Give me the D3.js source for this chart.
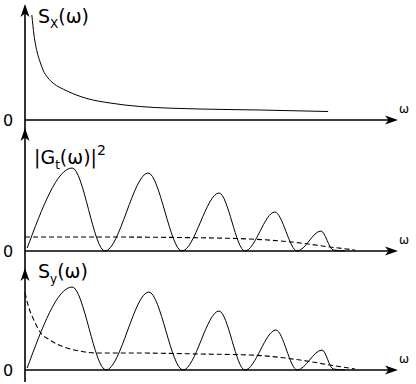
<!DOCTYPE html>
<html>
<head>
<meta charset="utf-8">
<script src="https://cdn.jsdelivr.net/npm/d3@7"></script>
<style>
  body { margin: 0; background: #fff; }
  text { font-family: "DejaVu Sans", sans-serif; fill: #000; }
</style>
</head>
<body>
<script>
// S_x(w) : decaying input spectrum
var sxOmega = [0.19, 0.25, 0.33, 0.42, 0.5, 0.64, 0.78, 1.17, 1.72, 2.36, 3.19, 4.86, 6.53, 8.42];
var sxVals  = [1.05, 0.85, 0.69, 0.58, 0.50, 0.42, 0.37, 0.29, 0.215, 0.17, 0.135, 0.11, 0.10, 0.085];

// |G_t(w)|^2 : humps (peaks and zeros)
var gOmega = [0.06, 1.31, 2.22, 3.42, 4.36, 5.39, 6.11, 6.94, 7.56, 8.22, 8.56, 8.89];
var gVals  = [0.03, 0.83, 0, 0.78, 0, 0.58, 0, 0.39, 0, 0.20, 0.01, 0];

// dashed curve in the middle panel
var gDashOmega = [0, 2.08, 4.31, 6.25, 7.64, 8.47, 9.17];
var gDashVals  = [0.14, 0.14, 0.135, 0.12, 0.08, 0.04, 0.01];

// S_y(w) : humps, same shape as |G_t|^2
var syOmega = [0.06, 1.31, 2.25, 3.44, 4.39, 5.39, 6.11, 6.97, 7.56, 8.25, 8.56, 8.89];
var syVals  = [0.02, 0.83, 0, 0.78, 0, 0.59, 0, 0.40, 0, 0.20, 0.01, 0];

// dashed curve in the bottom panel
var syDashOmega = [0, 0.11, 0.22, 0.42, 0.69, 1.17, 2.08, 2.92, 4.86, 6.25, 7.64, 8.47, 9.17];
var syDashVals  = [0.77, 0.62, 0.52, 0.38, 0.30, 0.22, 0.17, 0.17, 0.16, 0.15, 0.10, 0.05, 0.01];

var width = 416, height = 384;
var left = 25, axisEnd = 398;

var svg = d3.select("body").append("svg")
    .attr("width", width)
    .attr("height", height);

var x = d3.scaleLinear().domain([0, 10]).range([left, 385]);

// baselines of the three panels
var panels = [
  {base: 120, top: 4},
  {base: 251, top: 128},
  {base: 370, top: 268}
];
panels.forEach(function(p) {
  p.y = d3.scaleLinear().domain([0, 1]).range([p.base, p.base - 100]);
});

function zip(a, b) {
  return a.map(function(d, i) { return [d, b[i]]; });
}

function drawCurve(p, xs, ys, dashed) {
  var line = d3.line()
      .x(function(d) { return x(d[0]); })
      .y(function(d) { return p.y(d[1]); })
      .curve(d3.curveMonotoneX);
  svg.append("path")
     .datum(zip(xs, ys))
     .attr("d", line)
     .attr("fill", "none")
     .attr("stroke", "#000")
     .attr("stroke-width", dashed ? 1.1 : 1)
     .attr("stroke-dasharray", dashed ? "5,3" : null);
}

// arrowhead pointing right, tip at 0,0
var arrow = "M0,0 L-13,-4.5 L-9.5,0 L-13,4.5 Z";

// vertical axis line
svg.append("line")
   .attr("x1", left).attr("x2", left)
   .attr("y1", 6).attr("y2", 382)
   .attr("stroke", "#000")
   .attr("stroke-width", 1.6);

panels.forEach(function(p) {
  // horizontal axis
  svg.append("line")
     .attr("x1", left).attr("x2", axisEnd - 4)
     .attr("y1", p.base).attr("y2", p.base)
     .attr("stroke", "#000")
     .attr("stroke-width", 1.6);
  svg.append("path")
     .attr("d", arrow)
     .attr("transform", "translate(" + axisEnd + "," + p.base + ")");
  svg.append("path")
     .attr("d", arrow)
     .attr("transform", "translate(" + left + "," + p.top + ")rotate(-90)");

  svg.append("text")
     .attr("x", 8).attr("y", p.base + 6)
     .attr("text-anchor", "middle")
     .style("font-size", "16px")
     .text("0");
  svg.append("text")
     .attr("x", 404).attr("y", p.base - 7)
     .attr("text-anchor", "middle")
     .style("font-size", "12px")
     .text("ω");
});

drawCurve(panels[0], sxOmega, sxVals, false);
drawCurve(panels[1], gOmega, gVals, false);
drawCurve(panels[1], gDashOmega, gDashVals, true);
drawCurve(panels[2], syOmega, syVals, false);
drawCurve(panels[2], syDashOmega, syDashVals, true);

// panel titles
var t1 = svg.append("text").attr("x", 38).attr("y", 23).style("font-size", "19px");
t1.append("tspan").text("S");
t1.append("tspan").attr("dy", 5).style("font-size", "12px").text("X");
t1.append("tspan").attr("dy", -5).text("(ω)");

var t2 = svg.append("text").attr("x", 34).attr("y", 164).style("font-size", "19px");
t2.append("tspan").text("|G");
t2.append("tspan").attr("dy", 5).style("font-size", "12px").text("t");
t2.append("tspan").attr("dy", -5).text("(ω)|");
t2.append("tspan").attr("dy", -9).style("font-size", "14px").text("2");

var t3 = svg.append("text").attr("x", 38).attr("y", 278).style("font-size", "19px");
t3.append("tspan").text("S");
t3.append("tspan").attr("dy", 5).style("font-size", "12px").text("y");
t3.append("tspan").attr("dy", -5).text("(ω)");
</script>
</body>
</html>
